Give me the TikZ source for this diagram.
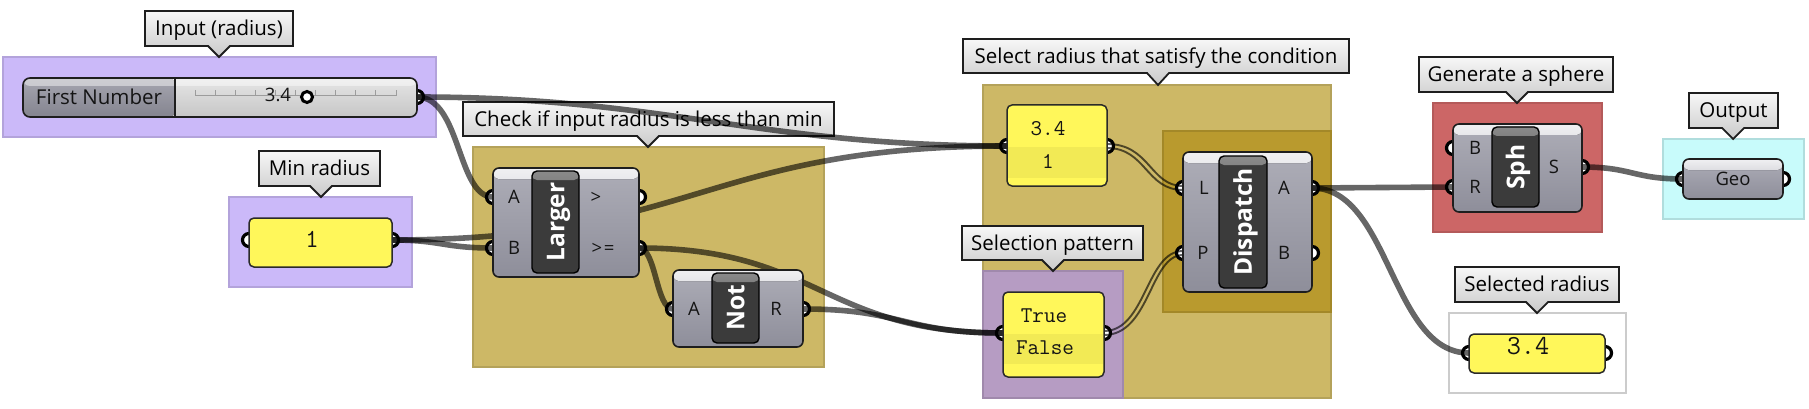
\documentclass[tikz,border=0pt]{standalone}
\usepackage{fontspec}
\setmainfont{Open Sans}
\usetikzlibrary{fit}
\definecolor{gpurple}{HTML}{CBB9F9}
\definecolor{golive}{HTML}{CDB866}
\definecolor{gdolive}{HTML}{B99A2E}
\definecolor{gmauve}{HTML}{B69CC3}
\definecolor{gred}{HTML}{CC6666}
\definecolor{gcyan}{HTML}{C8FBFB}
\definecolor{pyellow}{HTML}{FFF75A}
\definecolor{pstripe}{HTML}{F2EA55}
\definecolor{pedge}{HTML}{2A2A2A}
\definecolor{ctop}{HTML}{ADADB7}
\definecolor{cbot}{HTML}{8E8E9A}
\definecolor{chigh}{HTML}{F0F0F2}
\definecolor{edge}{HTML}{1E1E1E}
\definecolor{lblfill}{HTML}{3B3B3B}
\definecolor{lblhigh}{HTML}{8A8A8A}
\definecolor{txt}{HTML}{141414}
\definecolor{slhi}{HTML}{E6E6E6}
\definecolor{sllo}{HTML}{C6C6C6}
\definecolor{sltop}{HTML}{A6A6B0}
\definecolor{slbot}{HTML}{84848F}
\definecolor{track}{HTML}{9C9C9C}
\newcommand\ghcallout[8]{%
  \path[callbox] (#2,#3) -- (#4,#3) -- (#4,#5) -- ({#6+11},#5) -- (#6,#7) -- ({#6-11},#5) -- (#2,#5) -- cycle;
  \node[calltext] (#1) at ({(#2+#4)/2},{(#3+#5)/2}) {#8};
}
\tikzset{
  grp/.style={fill=#1, draw=#1!88!black, line width=1.2pt},
  callbox/.style={top color=white!97!black, bottom color=black!21, draw=edge, line width=1.8pt},
  calltext/.style={font=\fontsize{20.5}{24}\selectfont, text=black, inner sep=0pt, text height=14.6pt, text depth=0pt},
  wire/.style={draw=black, draw opacity=0.6, line width=5.6pt},
  lwire/.style={draw=black, draw opacity=0.62, line width=1.9pt},
  grip/.style={circle, inner sep=0pt, minimum size=13pt, fill=white, draw=black, line width=3.2pt},
  compbody/.style={fit={#1}, inner sep=0pt, draw=edge, line width=1.6pt, rounded corners=6pt,
    top color=ctop, bottom color=cbot,
    path picture={\fill[top color=chigh, bottom color=ctop] (path picture bounding box.north west) rectangle ([yshift=-11pt]path picture bounding box.north east);}},
  labelbox/.style={fit={#1}, inner sep=0pt, fill=lblfill, draw=black, line width=1.4pt, rounded corners=5pt,
    path picture={\fill[top color=lblhigh, bottom color=lblfill] (path picture bounding box.north west) rectangle ([yshift=-9pt]path picture bounding box.north east);}},
  compname/.style={rotate=90, font=\fontsize{24.5}{27}\selectfont\bfseries, text=white, inner sep=0pt, text height=17.5pt, text depth=0pt},
  portlbl/.style={font=\fontsize{18.5}{20}\selectfont, text=txt, inner sep=0pt, text height=13.2pt, text depth=0pt},
  panel/.style={fit={#1}, inner sep=0pt, fill=pyellow, draw=pedge, line width=1.5pt, rounded corners=5pt},
  ptext/.style={font=\ttfamily\fontsize{22.5}{24}\selectfont, text=txt, inner sep=0pt, text height=13.7pt, text depth=0pt},
  slbody/.style={fit={#1}, inner sep=0pt, draw=edge, line width=1.6pt, rounded corners=7pt,
    top color=slhi, bottom color=sllo,
    path picture={
      \fill[top color=sltop, bottom color=slbot] (path picture bounding box.north west) rectangle ([xshift=152pt]path picture bounding box.south west);
      \fill[white, opacity=0.45] (path picture bounding box.north west) rectangle ([yshift=-8pt]path picture bounding box.north east);
      \draw[edge, line width=1.4pt] ([xshift=152pt]path picture bounding box.north west) -- ([xshift=152pt]path picture bounding box.south west);
    }},
  trackline/.style={draw=track, line width=1pt},
}
\begin{document}
\begin{tikzpicture}[x=1pt,y=-1pt]
\useasboundingbox[fill=white] (0,0) rectangle (1809,409);

% ---------- groups
\path[grp=gpurple] (3,57) rectangle (436,137);
\path[grp=gpurple] (229,197) rectangle (412,287);
\path[grp=golive] (473,147) rectangle (824,367);
\path[grp=golive] (983,85) rectangle (1331,398);
\path[grp=gdolive] (1163,131) rectangle (1331,312);
\path[grp=gmauve] (983,271) rectangle (1123,398);
\path[grp=gred] (1433,103) rectangle (1602,232);
\path[grp=gcyan] (1663,139) rectangle (1804,219);
\path[fill=white, draw=black!20, line width=1.2pt] (1449,313) rectangle (1626,393);

% ---------- callouts
\ghcallout{c-input}{145}{11}{293}{46}{219}{57}{Input (radius)}
\ghcallout{c-min}{259}{151}{380}{186}{321}{197}{Min radius}
\ghcallout{c-check}{463}{102}{834}{136}{648}{147}{Check if input radius is less than min}
\ghcallout{c-select}{963}{39}{1349}{73}{1158}{85}{Select radius that satisfy the condition}
\ghcallout{c-pattern}{962}{226}{1143}{260}{1053}{271}{Selection pattern}
\ghcallout{c-sphere}{1419}{57}{1613}{92}{1517}{103}{Generate a sphere}
\ghcallout{c-output}{1689}{93}{1778}{128}{1733}{139}{Output}
\ghcallout{c-selected}{1455}{267}{1619}{302}{1537}{313}{Selected radius}

% ---------- grips (drawn below bodies)
\node[grip] (slout) at (417,97) {};
\node[grip] (pminL) at (249,240) {};
\node[grip] (pminR) at (392,240) {};
\node[grip] (largerA) at (493,197) {};
\node[grip] (largerB) at (493,248) {};
\node[grip] (largerG) at (639,197) {};
\node[grip] (largerGE) at (639,248) {};
\node[grip] (notA) at (673,309) {};
\node[grip] (notR) at (803,309) {};
\node[grip] (plistL) at (1007,146) {};
\node[grip] (plistR) at (1107,146) {};
\node[grip] (ptfL) at (1003,333) {};
\node[grip] (ptfR) at (1104,333) {};
\node[grip] (dispL) at (1183,188) {};
\node[grip] (dispP) at (1183,253) {};
\node[grip] (dispA) at (1312,188) {};
\node[grip] (dispB) at (1312,253) {};
\node[grip] (sphB) at (1453,148) {};
\node[grip] (sphR) at (1453,187) {};
\node[grip] (sphS) at (1582,167) {};
\node[grip] (geoL) at (1683,179) {};
\node[grip] (geoR) at (1783,179) {};
\node[grip] (selL) at (1469,353) {};
\node[grip] (selR) at (1605,353) {};

% ---------- wires
\draw[wire] (slout.center) .. controls +(250,0) and +(-250,0) .. (plistL.center);
\draw[wire] (slout.center) .. controls +(44,0) and +(-36,0) .. (largerA.center);
\draw[wire] (pminR.center) .. controls +(50,0) and +(-50,0) .. (largerB.center);
\draw[wire] (pminR.center) .. controls +(300,0) and +(-300,0) .. (plistL.center);
\draw[wire] (largerGE.center) .. controls +(17,0) and +(-17,0) .. (notA.center);
\draw[wire] (largerGE.center) .. controls +(180,0) and +(-180,0) .. (ptfL.center);
\draw[wire] (notR.center) .. controls +(100,0) and +(-100,0) .. (ptfL.center);
\draw[wire] (dispA.center) .. controls +(70,0) and +(-70,0) .. (sphR.center);
\draw[wire] (dispA.center) .. controls +(78,0) and +(-78,0) .. (selL.center);
\draw[wire] (sphS.center) .. controls +(50,0) and +(-50,0) .. (geoL.center);
% list wires (double)
\draw[lwire] ([yshift=2pt]plistR.center) .. controls +(43,0) and +(-33,0) .. ([yshift=2pt]dispL.center);
\draw[lwire] ([yshift=-2pt]plistR.center) .. controls +(39,0) and +(-37,0) .. ([yshift=-2pt]dispL.center);
\draw[lwire] ([yshift=2pt]ptfR.center) .. controls +(42,0) and +(-37,0) .. ([yshift=2pt]dispP.center);
\draw[lwire] ([yshift=-2pt]ptfR.center) .. controls +(46,0) and +(-33,0) .. ([yshift=-2pt]dispP.center);

% ---------- slider
\node[slbody={(23,78)(417,117)}] (slider) {};
\node[font=\fontsize{20.5}{24}\selectfont, text=txt, inner sep=0pt, text height=14.6pt, text depth=0pt] (sl-name) at (99,97) {First Number};
\draw[trackline] (195,96) -- (396,96);
\foreach \k in {0,...,10} {\draw[trackline] ({195+20.1*\k},96) -- ({195+20.1*\k},90);}
\node[font=\fontsize{18.5}{20}\selectfont, text=txt, inner sep=0pt, text height=13.2pt, text depth=0pt] (sl-val) at (278,95) {3.4};
\node[circle, inner sep=0pt, minimum size=11pt, fill=white, draw=black, line width=3pt] (sl-knob) at (307,97) {};

% ---------- panels
\node[panel={(249,218)(392,267)}] (pmin) {};
\node[ptext, font=\ttfamily\fontsize{26}{28}\selectfont, text height=15.9pt] (pmin-t) at (312,240) {1};

\node[panel={(1007,105)(1107,186)}] (plist) {};
\fill[pstripe] (1008,147) rectangle (1106,178);
\node[ptext] (plist-t1) at (1048,129) {3.4};
\node[ptext] (plist-t2) at (1048,162) {1};

\node[panel={(1003,292)(1104,377)}] (ptf) {};
\fill[pstripe] (1004,334) rectangle (1103,364);
\node[ptext] (ptf-t1) at (1044,316) {True};
\node[ptext] (ptf-t2) at (1045,348) {False};

\node[panel={(1469,334)(1605,373)}] (psel) {};
\node[ptext, font=\ttfamily\fontsize{27.5}{30}\selectfont, text height=16.8pt] (psel-t) at (1528,346) {3.4};

% ---------- components
\node[compbody={(493,168)(639,277)}] (larger) {};
\node[labelbox={(532,171)(579,273)}] (larger-lb) {};
\node[compname] (larger-n) at (larger-lb.center) {Larger};
\node[portlbl] (larger-pA) at (514,197) {A};
\node[portlbl] (larger-pB) at (514,248) {B};
\node[portlbl] (larger-pG) at (596,197) {>};
\node[portlbl] (larger-pGE) at (603,248) {>\kern1.5pt=};

\node[compbody={(673,270)(803,347)}] (not) {};
\node[labelbox={(712,273)(759,343)}] (not-lb) {};
\node[compname] (not-n) at (not-lb.center) {Not};
\node[portlbl] (not-pA) at (694,309) {A};
\node[portlbl] (not-pR) at (776,309) {R};

\node[compbody={(1183,152)(1312,292)}] (dispatch) {};
\node[labelbox={(1219,156)(1267,288)}] (dispatch-lb) {};
\node[compname] (dispatch-n) at (dispatch-lb.center) {Dispatch};
\node[portlbl] (disp-pL) at (1204,188) {L};
\node[portlbl] (disp-pP) at (1203,253) {P};
\node[portlbl] (disp-pA) at (1284,188) {A};
\node[portlbl] (disp-pB) at (1284,253) {B};

\node[compbody={(1453,124)(1582,212)}] (sph) {};
\node[labelbox={(1492,127)(1539,207)}] (sph-lb) {};
\node[compname] (sph-n) at (sph-lb.center) {Sph};
\node[portlbl] (sph-pB) at (1475,148) {B};
\node[portlbl] (sph-pR) at (1475,187) {R};
\node[portlbl] (sph-pS) at (1554,167) {S};

\node[compbody={(1683,159)(1783,199)}] (geo) {};
\node[portlbl] (geo-n) at (1733,179) {Geo};
\end{tikzpicture}
\end{document}
